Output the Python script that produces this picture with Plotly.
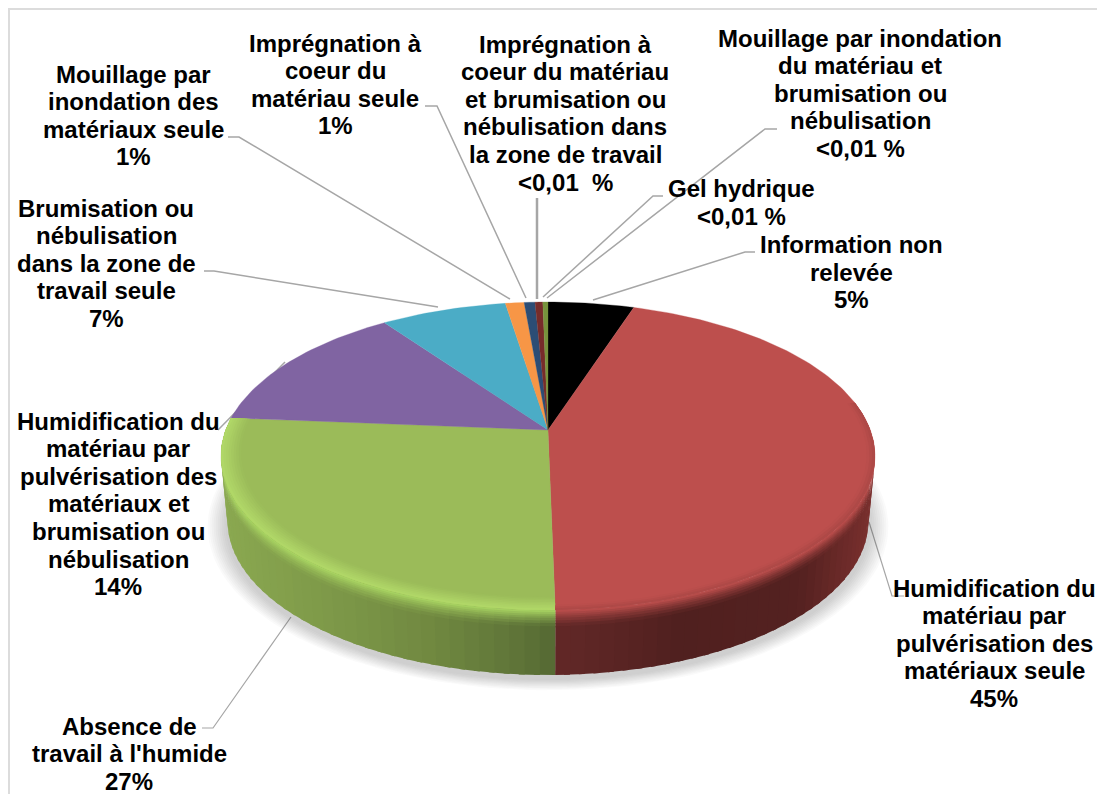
import numpy as np
import plotly.graph_objects as go

# ---- data (share of the pie, clockwise from 12 o'clock)
categories = ["Information non relevée",
              "Humidification du matériau par pulvérisation des matériaux seule",
              "Absence de travail à l'humide",
              "Humidification du matériau par pulvérisation des matériaux et brumisation ou nébulisation",
              "Brumisation ou nébulisation dans la zone de travail seule",
              "Mouillage par inondation des matériaux seule",
              "Imprégnation à coeur du matériau seule",
              "Imprégnation à coeur du matériau et brumisation ou nébulisation dans la zone de travail",
              "Gel hydrique"]
values = [5.0, 44.7, 26.6, 13.9, 7.33, 1.09, 0.63, 0.45, 0.30]
slice_colors = ["#000000", "#bd4f4d", "#9bbb59", "#8064a2", "#4bacc6",
                "#f79646", "#2c4d75", "#772c2a", "#77933c"]

# label text blocks: (centre x, first line y, lines)
label_blocks = [
    (851, 244.5, ["Information non", "relevée", "5%"]),
    (994, 588, ["Humidification du", "matériau par", "pulvérisation des", "matériaux seule", "45%"]),
    (129, 726, ["Absence de", "travail à l'humide", "27%"]),
    (118, 421, ["Humidification du", "matériau par", "pulvérisation des", "matériaux et",
                "brumisation ou", "nébulisation", "14%"]),
    (106, 208, ["Brumisation ou", "nébulisation", "dans la zone de", "travail seule", "7%"]),
    (133, 74, ["Mouillage par", "inondation des", "matériaux seule", "1%"]),
    (335, 43, ["Imprégnation à", "coeur du", "matériau seule", "1%"]),
    (565, 44, ["Imprégnation à", "coeur du matériau", "et brumisation ou", "nébulisation dans",
               "la zone de travail", "<0,01  %"]),
    (860, 38, ["Mouillage par inondation", "du matériau et", "brumisation ou", "nébulisation", "<0,01 %"]),
    (741, 188.5, ["Gel hydrique", "<0,01 %"]),
]
leaders = [
    ([755, 745, 593], [252, 252, 300], 1.5),
    ([904, 892, 869], [596, 596, 522], 1.2),
    ([202, 213, 291], [728, 728, 617], 1.2),
    ([285, 218], [362, 430], 1.5),
    ([204, 214, 438], [271, 271, 307], 1.5),
    ([228, 239, 510], [137, 137, 299], 1.5),
    ([425, 437, 526], [106, 106, 298], 1.5),
    ([537, 537], [198, 299], 2.5),
    ([777, 765, 547], [129, 129, 298], 1.5),
    ([663, 653, 543], [196, 196, 297], 1.5),
]

# ---- geometry of the tilted disc (perspective projection of a circle)
CX, CY = 548.0, 430.0
A, B, P = 322.3, 149.6, 0.169
DEPTH, BOTTOM_SHRINK = 65.0, 0.98
LINE_H = 27.6
FONT_SIZE = 24


def proj(theta, r=1.0):
    u, v = r * np.sin(theta), r * np.cos(theta)
    w = 1 + P * v
    return CX + A * u / w, CY - B * v / w


def hex2rgb(c):
    return tuple(int(c[i:i + 2], 16) for i in (1, 3, 5))


def mix(c1, c2, t):
    return tuple(a + (b - a) * t for a, b in zip(c1, c2))


def css(c):
    return "rgb(%d,%d,%d)" % tuple(round(x) for x in c)


def poly(fig, xs, ys, color, line=0.0):
    fig.add_trace(go.Scatter(x=xs, y=ys, mode="lines", fill="toself", fillcolor=color,
                             line=dict(color=color, width=line), hoverinfo="skip", showlegend=False))


def side_color(stops, x):
    xs = [s[0] for s in stops]
    return tuple(np.interp(x, xs, [s[1][i] for s in stops]) for i in range(3))


fracs = np.cumsum([0] + values) / sum(values)
fig = go.Figure()

# soft shadow under the disc
tt = np.linspace(0, 2 * np.pi, 200)
for k in np.arange(20, 0, -2):
    sx, sy = proj(tt)
    sc = (A + k) / A
    poly(fig, CX + (sx - CX) * sc * BOTTOM_SHRINK, CY + (sy - CY) * sc + DEPTH + 4,
         "rgba(60,60,60,0.028)")

# rim: only the front of the disc shows its side
front_a = np.arccos(-P)
front_b = 2 * np.pi - front_a
side_stops = {
    1: [(555, (98, 40, 39)), (680, (80, 32, 31)), (800, (84, 33, 32)), (875, (122, 48, 46))],
    2: [(222, (138, 168, 80)), (330, (125, 152, 72)), (430, (112, 136, 64)), (500, (98, 120, 58)), (556, (84, 104, 50))],
}
rim_light = {1: hex2rgb("#bd4f4d"), 2: hex2rgb("#aad663")}
bands = [0, 0.03, 0.06, 0.09, 0.12, 0.16, 0.2, 0.25, 1.0]
for idx in (1, 2):
    t0 = max(fracs[idx] * 2 * np.pi, front_a - 0.02)
    t1 = min(fracs[idx + 1] * 2 * np.pi, front_b + 0.02)
    edges = np.linspace(t0, t1, 37)
    step = edges[1] - edges[0]
    for a0 in edges[:-1]:
        a1 = min(a0 + 1.4 * step, t1)
        arc = np.linspace(a0, a1, 3)
        ax, ay = proj(arc)
        col = side_color(side_stops[idx], ax.mean())
        for j, (d0, d1) in enumerate(zip(bands[:-1], bands[1:])):
            d1x = min(1.0, d1 + 0.015)
            s0 = 1 - (1 - BOTTOM_SHRINK) * d0
            s1 = 1 - (1 - BOTTOM_SHRINK) * d1x
            x_top = CX + (ax - CX) * s0
            x_bot = CX + (ax - CX) * s1
            c = mix(rim_light[idx], col, min(1, (j + 0.5) / (len(bands) - 2)))
            poly(fig, np.r_[x_top, x_bot[::-1]], np.r_[ay + DEPTH * d0, (ay + DEPTH * d1x)[::-1]], css(c))

# top of the disc
for i, col in enumerate(slice_colors):
    th = np.linspace(fracs[i], fracs[i + 1], max(3, int(values[i] * 3))) * 2 * np.pi
    x, y = proj(th)
    poly(fig, np.r_[CX, x, CX], np.r_[CY, y, CY], col, line=0.3)

# bevel on the top face: thin stacked rings fading from the face colour to the rim colour
green_rr = np.linspace(0.94, 1.0, 9)
red_rr = np.linspace(0.975, 1.0, 4)
rings = {2: (fracs[2], fracs[3], green_rr, np.linspace(0.06, 0.85, 8), hex2rgb("#b4dc6a")),
         1: (fracs[1] + 0.17, fracs[2], red_rr, np.linspace(0.03, 0.16, 3), (98, 40, 39))}
for idx, (f0, f1, rr, mm, tgt) in rings.items():
    th = np.linspace(f0, f1, 90) * 2 * np.pi
    for r0, r1, m in zip(rr[:-1], rr[1:], mm):
        x0, y0 = proj(th, r0)
        x1, y1 = proj(th, 1.0)
        poly(fig, np.r_[x0, x1[::-1]], np.r_[y0, y1[::-1]], css(mix(hex2rgb(slice_colors[idx]), tgt, m)))

# leader lines and frame
shapes = [dict(type="path", layer="below",
               path="M " + " L ".join(f"{a},{b}" for a, b in zip(lx, ly)),
               line=dict(color="#a6a6a6", width=lw)) for lx, ly, lw in leaders]
shapes.append(dict(type="path", layer="below", path="M 1097,9 L 9,9 L 9,794",
                   line=dict(color="#dcdcdc", width=2)))

annotations = []
for cx, y0, lines in label_blocks:
    for n, line in enumerate(lines):
        annotations.append(dict(x=cx, y=y0 + n * LINE_H, xref="x", yref="y", text=f"<b>{line}</b>",
                                showarrow=False, xanchor="center", yanchor="middle",
                                font=dict(family="Liberation Sans", size=FONT_SIZE, color="#000000")))

fig.update_layout(
    width=1097, height=794, margin=dict(l=0, r=0, t=0, b=0),
    paper_bgcolor="white", plot_bgcolor="white", showlegend=False,
    xaxis=dict(range=[0, 1097], visible=False, fixedrange=True),
    yaxis=dict(range=[794, 0], visible=False, fixedrange=True),
    shapes=shapes, annotations=annotations,
)
fig.write_html("out.html", config={"displayModeBar": False},
               post_script="document.body.style.margin='0';document.body.style.overflow='hidden';")
